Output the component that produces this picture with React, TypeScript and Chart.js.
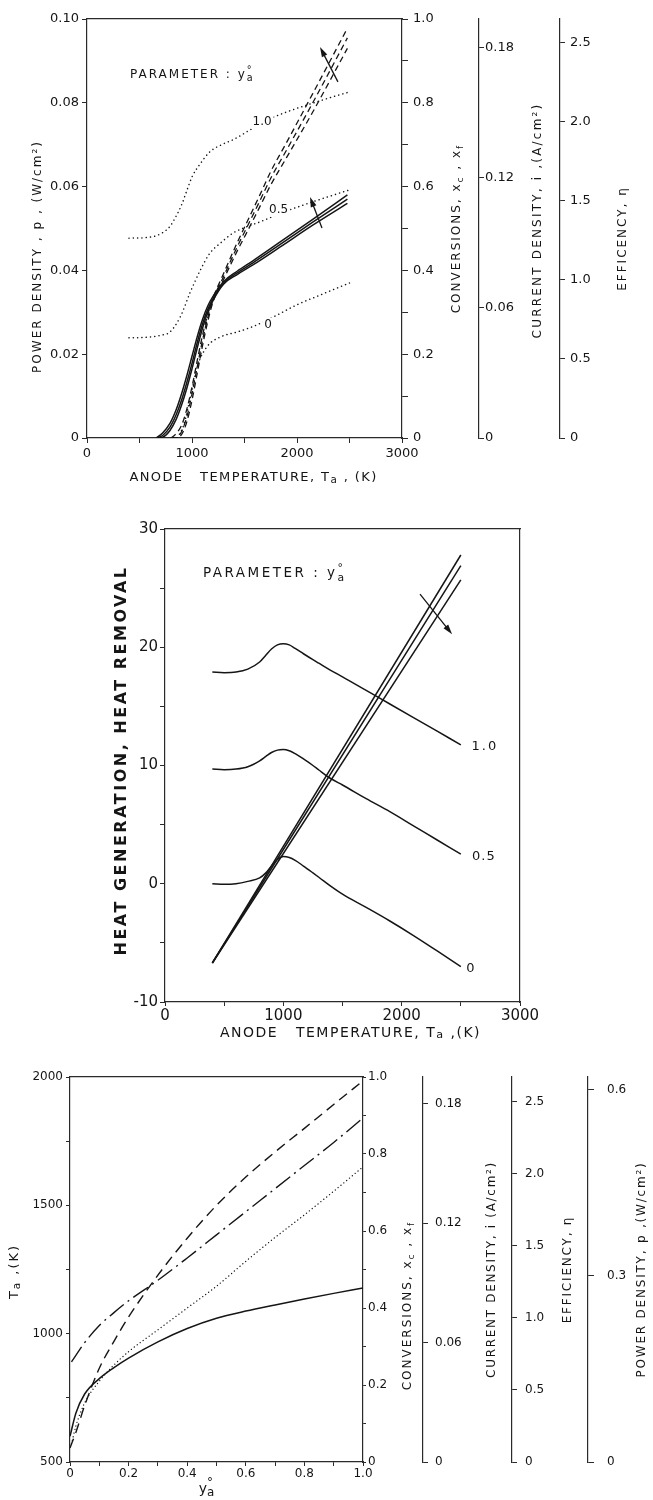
import React, { useEffect, useRef } from 'react';
import { Chart, registerables } from 'chart.js';

Chart.register(...registerables);

const FONT = "'DejaVu Sans', 'Liberation Sans', sans-serif";
const INK = '#151515';
const AXIS = '#2a2a2a';

// ---------------- shared tick definitions ----------------
const CONV_TICKS = [0, 0.1, 0.2, 0.3, 0.4, 0.5, 0.6, 0.7, 0.8, 0.9, 1.0];
const CONV_LABELS = ['0', '', '0.2', '', '0.4', '', '0.6', '', '0.8', '', '1.0'];
const CUR_TICKS = [0, 0.06, 0.12, 0.18];
const CUR_LABELS = ['0', '0.06', '0.12', '0.18'];
const EFF_TICKS = [0, 0.5, 1.0, 1.5, 2.0, 2.5];
const EFF_LABELS = ['0', '0.5', '1.0', '1.5', '2.0', '2.5'];
const POW_TICKS = [0, 0.3, 0.6];
const POW_LABELS = ['0', '0.3', '0.6'];

// ---------------- Panel 1 : power density vs anode temperature ----------------
const P1_X_TICKS = [0, 500, 1000, 1500, 2000, 2500, 3000];
const P1_X_LABELS = ['0', '', '1000', '', '2000', '', '3000'];
const P1_Y_TICKS = [0, 0.02, 0.04, 0.06, 0.08, 0.1];
const P1_Y_LABELS = ['0', '0.02', '0.04', '0.06', '0.08', '0.10'];

const P1_SOLID_T = [660, 720, 790, 850, 900, 950, 1000, 1050, 1100, 1150, 1200, 1300, 1430, 1580, 1840, 2150, 2480];
const P1_SOLID_A = [0, 0.0012, 0.0035, 0.0068, 0.0105, 0.0148, 0.0195, 0.0242, 0.0283, 0.0315, 0.0338, 0.0373, 0.0398, 0.0423, 0.0468, 0.0522, 0.058];
const P1_SOLID_B = [0, 0.0006, 0.0026, 0.0056, 0.009, 0.0132, 0.0178, 0.0228, 0.0272, 0.0307, 0.0332, 0.037, 0.0394, 0.0418, 0.0462, 0.0515, 0.057];
const P1_SOLID_C = [0, 0.0002, 0.0018, 0.0045, 0.0078, 0.0118, 0.0165, 0.0215, 0.0262, 0.03, 0.0328, 0.0367, 0.039, 0.0413, 0.0456, 0.0508, 0.056];

const P1_DASH_T = [800, 840, 900, 950, 1000, 1050, 1100, 1150, 1200, 1300, 1430, 1525, 1650, 1750, 1900, 2150, 2480];
const P1_DASH_A = [0, 0.0008, 0.003, 0.0068, 0.0122, 0.0185, 0.0245, 0.0295, 0.0334, 0.0392, 0.0466, 0.0516, 0.0582, 0.0636, 0.0705, 0.0822, 0.0978];
const P1_DASH_B = [0, 0, 0.0015, 0.005, 0.0105, 0.017, 0.0233, 0.0287, 0.033, 0.0385, 0.0456, 0.0504, 0.0568, 0.062, 0.0687, 0.08, 0.0955];
const P1_DASH_C = [0, 0, 0.0008, 0.0038, 0.009, 0.0155, 0.022, 0.0278, 0.0325, 0.0378, 0.0446, 0.0492, 0.0554, 0.0604, 0.0669, 0.0778, 0.093];

const P1_DOT10_T = [400, 550, 650, 720, 790, 850, 900, 950, 1000, 1080, 1170, 1300, 1400, 1550, 1700, 1900, 2100, 2300, 2500];
const P1_DOT10 = [0.0477, 0.0478, 0.0482, 0.049, 0.0505, 0.053, 0.0556, 0.059, 0.0623, 0.0655, 0.0683, 0.0702, 0.0713, 0.0735, 0.0757, 0.0778, 0.0795, 0.0811, 0.0826];
const P1_DOT05_T = [400, 550, 700, 790, 890, 980, 1080, 1170, 1270, 1390, 1520, 1650, 1850, 2050, 2250, 2500];
const P1_DOT05 = [0.0239, 0.024, 0.0245, 0.0253, 0.029, 0.0346, 0.0401, 0.0441, 0.0465, 0.0489, 0.0504, 0.0516, 0.0537, 0.0555, 0.0572, 0.0592];
const P1_DOT0_T = [860, 920, 960, 1000, 1050, 1140, 1270, 1430, 1600, 1800, 2000, 2200, 2500];
const P1_DOT0 = [0, 0.003, 0.007, 0.0115, 0.017, 0.0217, 0.0241, 0.0253, 0.0268, 0.0292, 0.0318, 0.0339, 0.037];

// ---------------- Panel 2 : heat generation / removal ----------------
const P2_X_TICKS = [0, 500, 1000, 1500, 2000, 2500, 3000];
const P2_X_LABELS = ['0', '', '1000', '', '2000', '', '3000'];
const P2_Y_TICKS = [-10, -5, 0, 5, 10, 15, 20, 25, 30];
const P2_Y_LABELS = ['-10', '', '0', '', '10', '', '20', '', '30'];

const P2_GEN_T = [400, 500, 600, 700, 800, 850, 900, 950, 1000, 1050, 1100, 1170, 1250, 1300, 1400, 1500, 1700, 1900, 2100, 2300, 2500];
const P2_GEN_10 = [17.9, 17.85, 17.9, 18.15, 18.75, 19.3, 19.85, 20.2, 20.3, 20.2, 19.9, 19.45, 18.95, 18.65, 18.05, 17.5, 16.35, 15.2, 14.05, 12.9, 11.75];
const P2_GEN_05 = [9.7, 9.65, 9.7, 9.9, 10.4, 10.75, 11.1, 11.3, 11.35, 11.25, 11.0, 10.55, 10.0, 9.62, 8.9, 8.35, 7.2, 6.1, 4.9, 3.7, 2.5];
const P2_GEN_0 = [0, -0.05, 0, 0.2, 0.5, 0.9, 1.5, 2.05, 2.3, 2.22, 1.98, 1.5, 0.92, 0.55, -0.2, -0.88, -2.0, -3.15, -4.38, -5.68, -7.0];

const P2_REM_T = [400, 2500];
const P2_REM_A = [-6.7, 27.8];
const P2_REM_B = [-6.7, 26.9];
const P2_REM_C = [-6.7, 25.7];

// ---------------- Panel 3 : vs y°a ----------------
const P3_X_TICKS = [0, 0.1, 0.2, 0.3, 0.4, 0.5, 0.6, 0.7, 0.8, 0.9, 1.0];
const P3_X_LABELS = ['0', '', '0.2', '', '0.4', '', '0.6', '', '0.8', '', '1.0'];
const P3_Y_TICKS = [500, 750, 1000, 1250, 1500, 1750, 2000];
const P3_Y_LABELS = ['500', '', '1000', '', '1500', '', '2000'];

const P3_X = [0, 0.02, 0.05, 0.1, 0.15, 0.2, 0.3, 0.4, 0.5, 0.6, 0.7, 0.8, 0.9, 1.0];
const P3_SOLID = [600, 690, 765, 825, 868, 905, 968, 1020, 1060, 1088, 1112, 1135, 1157, 1178];
const P3_DASH = [555, 615, 720, 865, 970, 1065, 1228, 1372, 1500, 1610, 1708, 1800, 1893, 1985];
const P3_DASHDOT_X = [0.005, 0.05, 0.1, 0.15, 0.2, 0.3, 0.4, 0.5, 0.6, 0.7, 0.8, 0.9, 1.0];
const P3_DASHDOT = [890, 965, 1032, 1082, 1128, 1208, 1295, 1385, 1475, 1565, 1655, 1745, 1840];
const P3_DOT_X = [0.005, 0.02, 0.05, 0.1, 0.15, 0.2, 0.3, 0.4, 0.5, 0.6, 0.7, 0.8, 0.9, 1.0];
const P3_DOT = [570, 640, 730, 815, 878, 930, 1015, 1100, 1185, 1282, 1375, 1463, 1555, 1650];

// ---------------- helpers ----------------
type Seg = { t: string; s?: number; dy?: number; na?: boolean };
type Title = { id: string; segs: Seg[]; size: number; sp: number; dx: number; dy: number; bold?: boolean };
type Label = { x: number; y: number; segs: Seg[]; size: number; sp: number; align: 'left' | 'center'; bg?: boolean };

function drawRich(ctx: any, segs: Seg[], x: number, y: number, size: number, sp: number, rot: number, align: string, bold?: boolean, bg?: boolean) {
  ctx.save();
  ctx.translate(x, y);
  ctx.rotate(rot);
  ctx.textBaseline = 'middle';
  ctx.textAlign = 'left';
  ctx.letterSpacing = sp + 'px';
  const fontOf = (s: Seg) => `${bold ? 'bold ' : ''}${(size * (s.s ?? 1)).toFixed(1)}px ${FONT}`;
  const widths = segs.map((s) => {
    ctx.font = fontOf(s);
    return ctx.measureText(s.t).width;
  });
  let total = 0;
  segs.forEach((s, i) => {
    if (!s.na) total += widths[i];
  });
  let cx = align === 'center' ? -total / 2 : 0;
  if (bg) {
    ctx.fillStyle = '#fff';
    ctx.fillRect(cx - 2, -size * 0.6, total + 4, size * 1.2);
  }
  ctx.fillStyle = INK;
  segs.forEach((s, i) => {
    ctx.font = fontOf(s);
    ctx.fillText(s.t, cx, (s.dy ?? 0) * size);
    if (!s.na) cx += widths[i];
  });
  ctx.restore();
}

function decor(titles: Title[], labels: Label[], arrows: number[][]) {
  return {
    id: 'decor',
    afterDraw(chart: any) {
      const ctx = chart.ctx;
      const xs = chart.scales.x;
      const ys = chart.scales.y;
      arrows.forEach(([x1, y1, x2, y2]) => {
        const a = xs.getPixelForValue(x1);
        const b = ys.getPixelForValue(y1);
        const c = xs.getPixelForValue(x2);
        const d = ys.getPixelForValue(y2);
        const ang = Math.atan2(d - b, c - a);
        const L = 10;
        const W = 3;
        ctx.save();
        ctx.strokeStyle = INK;
        ctx.fillStyle = INK;
        ctx.lineWidth = 1.3;
        ctx.beginPath();
        ctx.moveTo(a, b);
        ctx.lineTo(c - Math.cos(ang) * 4, d - Math.sin(ang) * 4);
        ctx.stroke();
        ctx.beginPath();
        ctx.moveTo(c, d);
        ctx.lineTo(c - L * Math.cos(ang) + W * Math.sin(ang), d - L * Math.sin(ang) - W * Math.cos(ang));
        ctx.lineTo(c - L * Math.cos(ang) - W * Math.sin(ang), d - L * Math.sin(ang) + W * Math.cos(ang));
        ctx.closePath();
        ctx.fill();
        ctx.restore();
      });
      labels.forEach((l) =>
        drawRich(ctx, l.segs, xs.getPixelForValue(l.x), ys.getPixelForValue(l.y), l.size, l.sp, 0, l.align, false, l.bg)
      );
      titles.forEach((t) => {
        const s = chart.scales[t.id];
        if (!s) return;
        if (s.isHorizontal()) {
          drawRich(ctx, t.segs, (s.left + s.right) / 2 + t.dx, s.top + t.dy, t.size, t.sp, 0, 'center', t.bold);
        } else {
          drawRich(ctx, t.segs, s.left + t.dx, (s.top + s.bottom) / 2 + t.dy, t.size, t.sp, -Math.PI / 2, 'center', t.bold);
        }
      });
    },
  };
}

type AxisOpt = {
  pos: string;
  min: number;
  max: number;
  ticks: number[];
  labels: string[];
  size: number;
  font: number;
  pad: number;
  tl: number;
  weight?: number;
};

function axis(o: AxisOpt) {
  const vertical = o.pos === 'left' || o.pos === 'right';
  return {
    type: 'linear',
    position: o.pos,
    min: o.min,
    max: o.max,
    weight: o.weight ?? 0,
    afterBuildTicks: (s: any) => {
      s.ticks = o.ticks.map((v) => ({ value: v }));
    },
    afterFit: (s: any) => {
      if (vertical) s.width = o.size;
      else s.height = o.size;
    },
    grid: { drawOnChartArea: false, drawTicks: true, tickLength: o.tl, color: AXIS, lineWidth: 1 },
    border: { display: true, color: AXIS, width: 1.2 },
    ticks: {
      autoSkip: false,
      maxRotation: 0,
      minRotation: 0,
      padding: o.pad,
      color: INK,
      font: { family: FONT, size: o.font },
      callback: (_v: any, i: number) => o.labels[i] ?? '',
    },
  };
}

function frame(pos: string, min: number, max: number, size: number, weight = 0) {
  const vertical = pos === 'left' || pos === 'right';
  return {
    type: 'linear',
    position: pos,
    min,
    max,
    weight,
    afterFit: (s: any) => {
      if (vertical) s.width = size;
      else s.height = size;
    },
    grid: { drawOnChartArea: false, drawTicks: false },
    border: { display: true, color: AXIS, width: 1.2 },
    ticks: { display: false },
  };
}

function line(xs: number[], ys: number[], w: number, dash: number[], round = false) {
  return {
    data: xs.map((x, i) => ({ x, y: ys[i] })),
    borderColor: INK,
    borderWidth: w,
    borderDash: dash,
    borderCapStyle: round ? 'round' : 'butt',
    pointRadius: 0,
    fill: false,
    cubicInterpolationMode: 'monotone',
    xAxisID: 'x',
    yAxisID: 'y',
  };
}

function config(datasets: any[], scales: any, top: number, plugin: any) {
  return {
    type: 'line',
    data: { datasets },
    options: {
      responsive: false,
      animation: false,
      devicePixelRatio: 1,
      events: [],
      layout: { padding: { left: 0, right: 0, top, bottom: 0 } },
      plugins: { legend: { display: false }, tooltip: { enabled: false } },
      scales,
    },
    plugins: [plugin],
  } as any;
}

const sub = (t: string, s = 0.75, dy = 0.32): Seg => ({ t, s, dy });
const supNA = (t: string, s = 0.8, dy = -0.42): Seg => ({ t, s, dy, na: true });

// ---------------- panel builders ----------------
const DOT = [0.1, 4.2];

function buildP1() {
  const datasets = [
    line(P1_SOLID_T, P1_SOLID_A, 1.5, []),
    line(P1_SOLID_T, P1_SOLID_B, 1.5, []),
    line(P1_SOLID_T, P1_SOLID_C, 1.5, []),
    line(P1_DASH_T, P1_DASH_A, 1.3, [6, 4]),
    line(P1_DASH_T, P1_DASH_B, 1.3, [6, 4]),
    line(P1_DASH_T, P1_DASH_C, 1.3, [6, 4]),
    line(P1_DOT10_T, P1_DOT10, 1.5, DOT, true),
    line(P1_DOT05_T, P1_DOT05, 1.5, DOT, true),
    line(P1_DOT0_T, P1_DOT0, 1.5, DOT, true),
  ];
  const scales = {
    x: axis({ pos: 'bottom', min: 0, max: 3000, ticks: P1_X_TICKS, labels: P1_X_LABELS, size: 57, font: 13, pad: 3, tl: 5 }),
    xt: frame('top', 0, 3000, 0),
    y: axis({ pos: 'left', min: 0, max: 0.1, ticks: P1_Y_TICKS, labels: P1_Y_LABELS, size: 87, font: 13, pad: 3, tl: 5 }),
    yConv: axis({ pos: 'right', weight: 0, min: 0, max: 1, ticks: CONV_TICKS, labels: CONV_LABELS, size: 77, font: 13, pad: 5, tl: 6 }),
    yCur: axis({ pos: 'right', weight: 1, min: 0, max: 0.193, ticks: CUR_TICKS, labels: CUR_LABELS, size: 81, font: 13, pad: 1, tl: 5 }),
    yEff: axis({ pos: 'right', weight: 2, min: 0, max: 2.65, ticks: EFF_TICKS, labels: EFF_LABELS, size: 93, font: 13, pad: 5, tl: 5 }),
  };
  const titles: Title[] = [
    { id: 'y', segs: [{ t: 'POWER DENSITY , p , (W/cm²)' }], size: 12, sp: 2, dx: 38, dy: 28 },
    { id: 'x', segs: [{ t: 'ANODE   TEMPERATURE, T' }, sub('a', 0.8, 0.15), { t: ' , (K)' }], size: 13, sp: 1.4, dx: 9, dy: 40 },
    { id: 'yConv', segs: [{ t: 'CONVERSIONS, x' }, sub('c'), { t: ' , x' }, sub('f')], size: 12, sp: 2, dx: 55, dy: 0 },
    { id: 'yCur', segs: [{ t: 'CURRENT DENSITY, i ,(A/cm²)' }], size: 12, sp: 2.2, dx: 59, dy: -8 },
    { id: 'yEff', segs: [{ t: 'EFFICENCY, η' }], size: 12, sp: 2, dx: 63, dy: 10 },
  ];
  const labels: Label[] = [
    { x: 410, y: 0.0866, segs: [{ t: 'PARAMETER : y' }, supNA('°'), sub('a', 0.8, 0.28)], size: 12, sp: 2, align: 'left' },
    { x: 1667, y: 0.0755, segs: [{ t: '1.0' }], size: 12, sp: 0, align: 'center', bg: true },
    { x: 1825, y: 0.0545, segs: [{ t: '0.5' }], size: 12, sp: 0, align: 'center', bg: true },
    { x: 1724, y: 0.027, segs: [{ t: '0' }], size: 12, sp: 0, align: 'center', bg: true },
  ];
  const arrows = [
    [2390, 0.085, 2219, 0.0933],
    [2238, 0.0501, 2124, 0.0575],
  ];
  return config(datasets, scales, 19, decor(titles, labels, arrows));
}

function buildP2() {
  const datasets = [
    line(P2_GEN_T, P2_GEN_10, 1.5, []),
    line(P2_GEN_T, P2_GEN_05, 1.5, []),
    line(P2_GEN_T, P2_GEN_0, 1.5, []),
    line(P2_REM_T, P2_REM_A, 1.5, []),
    line(P2_REM_T, P2_REM_B, 1.5, []),
    line(P2_REM_T, P2_REM_C, 1.5, []),
  ];
  const scales = {
    x: axis({ pos: 'bottom', min: 0, max: 3000, ticks: P2_X_TICKS, labels: P2_X_LABELS, size: 48, font: 15, pad: 1, tl: 4 }),
    xt: frame('top', 0, 3000, 0),
    y: axis({ pos: 'left', min: -10, max: 30, ticks: P2_Y_TICKS, labels: P2_Y_LABELS, size: 165, font: 15, pad: 2, tl: 5 }),
    yR: frame('right', -10, 30, 133),
  };
  const titles: Title[] = [
    { id: 'y', segs: [{ t: 'HEAT GENERATION, HEAT REMOVAL' }], size: 16, sp: 2.5, dx: 122, dy: -5, bold: true },
    { id: 'x', segs: [{ t: 'ANODE   TEMPERATURE, T' }, sub('a', 0.8, 0.15), { t: ' ,(K)' }], size: 14, sp: 1.5, dx: 8, dy: 31 },
  ];
  const labels: Label[] = [
    { x: 321, y: 26.2, segs: [{ t: 'PARAMETER : y' }, supNA('°'), sub('a', 0.8, 0.28)], size: 13.5, sp: 2.5, align: 'left' },
    { x: 2590, y: 11.6, segs: [{ t: '1.0' }], size: 13, sp: 2, align: 'left' },
    { x: 2595, y: 2.3, segs: [{ t: '0.5' }], size: 13, sp: 1, align: 'left' },
    { x: 2545, y: -7.2, segs: [{ t: '0' }], size: 13, sp: 0, align: 'left' },
  ];
  const arrows = [[2155, 24.5, 2426, 21.1]];
  return config(datasets, scales, 34, decor(titles, labels, arrows));
}

function buildP3() {
  const datasets = [
    line(P3_X, P3_SOLID, 1.5, []),
    line(P3_X, P3_DASH, 1.4, [10, 6]),
    line(P3_DASHDOT_X, P3_DASHDOT, 1.4, [18, 5, 2, 5]),
    line(P3_DOT_X, P3_DOT, 1.3, [0.1, 3.6], true),
  ];
  const scales = {
    x: axis({ pos: 'bottom', min: 0, max: 1, ticks: P3_X_TICKS, labels: P3_X_LABELS, size: 38, font: 12, pad: 1, tl: 4 }),
    xt: frame('top', 0, 1, 0),
    y: axis({ pos: 'left', min: 500, max: 2000, ticks: P3_Y_TICKS, labels: P3_Y_LABELS, size: 70, font: 12, pad: 3, tl: 4 }),
    yConv: axis({ pos: 'right', weight: 0, min: 0, max: 1, ticks: CONV_TICKS, labels: CONV_LABELS, size: 60, font: 12, pad: 2, tl: 3 }),
    yCur: axis({ pos: 'right', weight: 1, min: 0, max: 0.1935, ticks: CUR_TICKS, labels: CUR_LABELS, size: 89, font: 12, pad: 7, tl: 5 }),
    yEff: axis({ pos: 'right', weight: 2, min: 0, max: 2.67, ticks: EFF_TICKS, labels: EFF_LABELS, size: 76, font: 12, pad: 8, tl: 5 }),
    yPow: axis({ pos: 'right', weight: 3, min: 0, max: 0.62, ticks: POW_TICKS, labels: POW_LABELS, size: 65, font: 12, pad: 13, tl: 6 }),
  };
  const titles: Title[] = [
    { id: 'y', segs: [{ t: 'T' }, sub('a', 0.8, 0.15), { t: ' ,(K)' }], size: 13, sp: 2, dx: 15, dy: 2 },
    { id: 'x', segs: [{ t: 'y' }, supNA('°', 0.85, -0.45), sub('a', 0.85, 0.3)], size: 14, sp: 0, dx: -10, dy: 27 },
    { id: 'yConv', segs: [{ t: 'CONVERSIONS, x' }, sub('c'), { t: ' , x' }, sub('f')], size: 12, sp: 2, dx: 45, dy: 36 },
    { id: 'yCur', segs: [{ t: 'CURRENT DENSITY, i (A/cm²)' }], size: 12, sp: 1.7, dx: 69, dy: 0 },
    { id: 'yEff', segs: [{ t: 'EFFICIENCY, η' }], size: 12, sp: 1.8, dx: 56, dy: 0 },
    { id: 'yPow', segs: [{ t: 'POWER DENSITY, p ,(W/cm²)' }], size: 12, sp: 1.8, dx: 54, dy: 0 },
  ];
  return config(datasets, scales, 27, decor(titles, [], []));
}

function Panel({ top, height, build }: { top: number; height: number; build: () => any }) {
  const ref = useRef<HTMLCanvasElement>(null);
  useEffect(() => {
    const chart = new Chart(ref.current as HTMLCanvasElement, build());
    return () => chart.destroy();
  }, [build]);
  return (
    <canvas
      ref={ref}
      width={653}
      height={height}
      style={{ position: 'absolute', left: 0, top, width: 653, height, display: 'block' }}
    />
  );
}

export default function App() {
  return (
    <div style={{ position: 'absolute', left: 0, top: 0, width: 653, height: 1500, background: '#fff', overflow: 'hidden' }}>
      <Panel top={0} height={495} build={buildP1} />
      <Panel top={495} height={555} build={buildP2} />
      <Panel top={1050} height={450} build={buildP3} />
    </div>
  );
}
